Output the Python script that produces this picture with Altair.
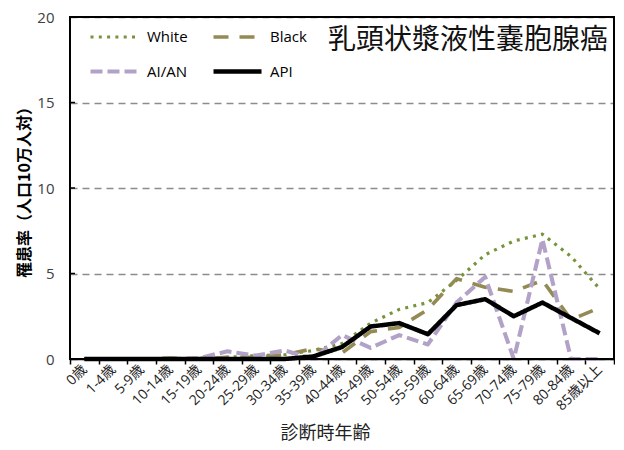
import altair as alt
import pandas as pd

ages = ["0歳", "1-4歳", "5-9歳", "10-14歳", "15-19歳", "20-24歳", "25-29歳",
        "30-34歳", "35-39歳", "40-44歳", "45-49歳", "50-54歳", "55-59歳",
        "60-64歳", "65-69歳", "70-74歳", "75-79歳", "80-84歳", "85歳以上"]
white = [0, 0, 0, 0, 0.05, 0.1, 0.2, 0.25, 0.5, 0.9, 2.1, 2.9, 3.3, 4.6, 6.1, 6.9, 7.3, 6.0, 4.1]
black = [0, 0, 0, 0.05, 0, 0.1, 0.1, 0.25, 0.6, 0.35, 1.6, 1.85, 2.9, 4.7, 4.2, 3.95, 4.6, 2.3, 3.0]
aian = [0, 0, 0, 0, 0.05, 0.45, 0.2, 0.5, 0, 1.4, 0.65, 1.4, 0.85, 3.3, 4.8, 0, 7.0, 0, 0]
api = [0, 0, 0, 0, 0, 0, 0, 0, 0.15, 0.7, 1.9, 2.1, 1.45, 3.15, 3.5, 2.5, 3.3, 2.4, 1.5]

series = ["White", "Black", "AI/AN", "API"]
colors = ["#77933C", "#948A54", "#B3A2C7", "#000000"]
dashes = [[3, 5.3], [15, 11], [12, 5], [1, 0]]
widths = [3.2, 4.5, 4.5, 3.5]
y_ticks = [0, 5, 10, 15, 20]
chart_title = "乳頭状漿液性嚢胞腺癌"

W, H = 544, 342

rows = []
for name, vals in zip(series, [white, black, aian, api]):
    for a, v in zip(ages, vals):
        rows.append({"age": a, "group": name, "value": v})
df = pd.DataFrame(rows)

legend = alt.Legend(
    title=None, orient="none", legendX=18, legendY=-6, columns=2, direction="horizontal",
    columnPadding=16, rowPadding=-11, symbolSize=2304, symbolType="stroke",
    labelFont="Open Sans", labelFontSize=15, labelColor="#000000",
    labelOffset=6, padding=0,
)

x_enc = alt.X(
    "age:N", sort=ages,
    scale=alt.Scale(type="band", paddingInner=0, paddingOuter=0),
    bandPosition=0.5,
    axis=alt.Axis(
        title="診断時年齢", labelAngle=-45, labelAlign="right", labelBaseline="middle",
        labelFont="Open Sans, Noto Sans CJK JP", labelFontSize=14, labelColor="#222222",
        labelPadding=3, tickBand="extent", tickSize=5, tickWidth=1.5, tickColor="#000000",
        domainColor="#000000", domainWidth=1.5, grid=False,
        titleFont="Noto Sans CJK JP", titleFontSize=18, titleFontWeight="normal",
        titleColor="#222222", titleX=255, titlePadding=12,
    ),
)
y_scale = alt.Scale(domain=[0, 20], nice=False)
y_axis = alt.Axis(
    title="罹患率（人口10万人対）", values=y_ticks, ticks=False, domain=False,
    labelFont="Open Sans", labelFontSize=15, labelColor="#404040", labelPadding=16,
    grid=True, gridDash=[7, 5], gridColor="#8C8C8C", gridWidth=1.3,
    titleFont="Noto Sans CJK JP", titleFontSize=16, titleFontWeight="bold",
    titleColor="#000000", titlePadding=4,
)

lines = alt.Chart(df).mark_line(strokeCap="butt", strokeJoin="round").encode(
    x=x_enc,
    y=alt.Y("value:Q", scale=y_scale, axis=y_axis, title="罹患率（人口10万人対）"),
    color=alt.Color("group:N", scale=alt.Scale(domain=series, range=colors), legend=legend),
    strokeDash=alt.StrokeDash("group:N", scale=alt.Scale(domain=series, range=dashes), legend=legend),
    strokeWidth=alt.StrokeWidth("group:N", scale=alt.Scale(domain=series, range=widths), legend=legend),
)

ticks_df = pd.DataFrame({"value": y_ticks})
inner_ticks = alt.Chart(ticks_df).mark_rule(color="#000000", strokeWidth=1.5).encode(
    y=alt.Y("value:Q", scale=y_scale, axis=y_axis, title="罹患率（人口10万人対）"),
    x=alt.value(0), x2=alt.value(5),
)

frame = alt.Chart(pd.DataFrame({"k": [0]})).mark_rect(
    filled=False, stroke="#000000", strokeWidth=2
).encode(x=alt.value(0), x2=alt.value(W), y=alt.value(0), y2=alt.value(H))

title_df = pd.DataFrame({"t": [chart_title]})
title_text = alt.Chart(title_df).mark_text(
    font="Noto Sans CJK JP", fontSize=28, color="#111111", align="center", baseline="middle"
).encode(text="t:N", x=alt.value(398), y=alt.value(24))

chart = alt.layer(lines, inner_ticks, frame, title_text).properties(
    width=W, height=H,
    padding={"left": 8, "top": 2, "right": 0, "bottom": 0},
).configure_view(stroke="#000000", strokeWidth=1.5)

chart.save("out.html", embed_options={"renderer": "svg", "actions": False})
